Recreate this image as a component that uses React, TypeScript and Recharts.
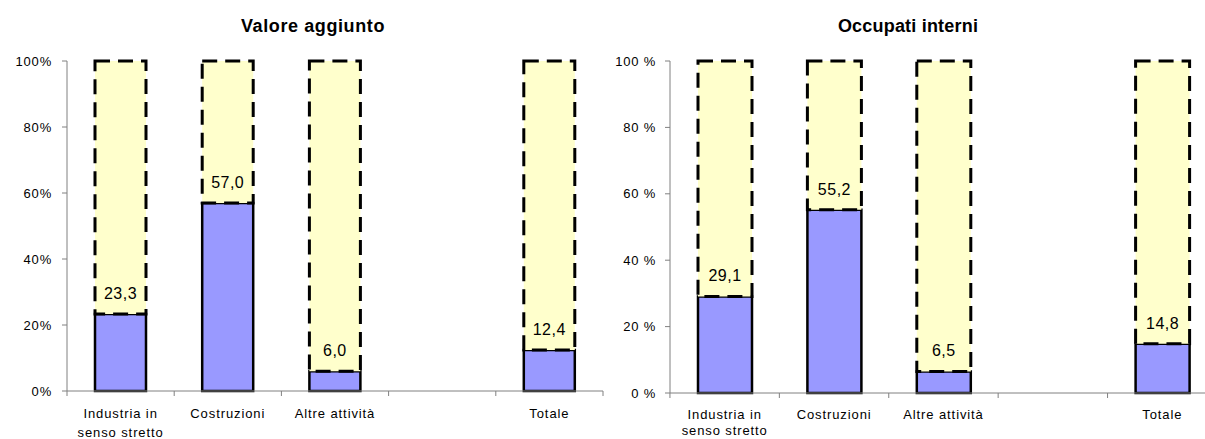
import { BarChart, Bar, XAxis, YAxis, LabelList } from "recharts";

const categories = ["Industria in senso stretto", "Costruzioni", "Altre attività", "", "Totale"];
const tickLines = [["Industria in", "senso stretto"], ["Costruzioni"], ["Altre attività"], [""], ["Totale"]];
const valoreAggiunto = [23.3, 57.0, 6.0, null, 12.4];
const occupatiInterni = [29.1, 55.2, 6.5, null, 14.8];
const yTicks = [0, 20, 40, 60, 80, 100];

const FONT = "Arial, 'Liberation Sans', sans-serif";
const BLUE = "#9999FF";
const YELLOW = "#FFFFCC";

function buildRows(values: (number | null)[]) {
  return categories.map((name, i) => ({
    name,
    v: values[i],
    rest: values[i] == null ? null : 100 - (values[i] as number),
  }));
}

const fmt = (n: number) => n.toFixed(1).replace(".", ",");

function makeTick(half: number, count: number, first: number, gap: number) {
  return (props: any) => {
    const { x, y, index } = props;
    const lines = tickLines[index] || [];
    return (
      <g>
        <line x1={x - half} y1={y} x2={x - half} y2={y + 5} stroke="#808080" />
        {index === count - 1 && <line x1={x + half} y1={y} x2={x + half} y2={y + 5} stroke="#808080" />}
        <text x={x} y={y + first} textAnchor="middle" fontSize={13} letterSpacing={0.9} fontFamily={FONT} fill="#000">
          {lines.map((l, k) => (
            <tspan key={k} x={x} dy={k === 0 ? 0 : gap}>
              {l}
            </tspan>
          ))}
        </text>
      </g>
    );
  };
}

function valueLabel(props: any) {
  const { x, y, width, height, value } = props;
  if (value == null) return null;
  return (
    <text x={x + width / 2} y={y + height - 15} textAnchor="middle" fontSize={16} letterSpacing={0.5} fontFamily={FONT} fill="#000">
      {fmt(value)}
    </text>
  );
}

function Panel({
  values,
  width,
  yWidth,
  right,
  xHeight,
  barSize,
  half,
  pctSep,
  tickMargin,
  first,
  gap,
}: {
  values: (number | null)[];
  width: number;
  yWidth: number;
  right: number;
  xHeight: number;
  barSize: number;
  half: number;
  pctSep: string;
  tickMargin: number;
  first: number;
  gap: number;
}) {
  return (
    <BarChart width={width} height={439} data={buildRows(values)} margin={{ top: 61, right, left: 0, bottom: 0 }} barSize={barSize}>
      <XAxis
        dataKey="name"
        height={xHeight}
        interval={0}
        tickLine={false}
        tickSize={0}
        tickMargin={0}
        axisLine={{ stroke: "#808080" }}
        tick={makeTick(half, categories.length, first, gap)}
      />
      <YAxis
        width={yWidth}
        domain={[0, 100]}
        ticks={yTicks}
        tickSize={5}
        tickMargin={tickMargin}
        axisLine={{ stroke: "#808080" }}
        tickLine={{ stroke: "#808080" }}
        tick={{ fontSize: 13, fontFamily: FONT, fill: "#000", letterSpacing: 0.8 }}
        tickFormatter={(v: number) => `${v}${pctSep}%`}
      />
      <Bar dataKey="v" stackId="s" fill={BLUE} stroke="#000" strokeWidth={2.5} isAnimationActive={false} />
      <Bar dataKey="rest" stackId="s" fill={YELLOW} stroke="#000" strokeWidth={3} strokeDasharray="15 8" isAnimationActive={false}>
        <LabelList dataKey="v" content={valueLabel} />
      </Bar>
    </BarChart>
  );
}

export default function App() {
  return (
    <div style={{ position: "fixed", left: 0, top: 0, width: 1205, height: 439, overflow: "hidden", background: "#fff" }}>
      <svg width={1205} height={45} style={{ position: "absolute", left: 0, top: 0 }}>
        <text x={313} y={32} textAnchor="middle" fontSize={18} fontWeight="bold" letterSpacing={0.6} fontFamily={FONT} fill="#000">
          Valore aggiunto
        </text>
        <text x={908} y={32} textAnchor="middle" fontSize={18} fontWeight="bold" letterSpacing={0.2} fontFamily={FONT} fill="#000">
          Occupati interni
        </text>
      </svg>
      <div style={{ position: "absolute", left: 0, top: 0 }}>
        <Panel values={valoreAggiunto} width={620} yWidth={67} right={17} xHeight={48} barSize={51} half={53.6} pctSep="" tickMargin={10} first={27} gap={19} />
      </div>
      <div style={{ position: "absolute", left: 600, top: 0 }}>
        <Panel values={occupatiInterni} width={640} yWidth={70} right={23} xHeight={46} barSize={54} half={54.75} pctSep=" " tickMargin={9} first={26} gap={16} />
      </div>
    </div>
  );
}
